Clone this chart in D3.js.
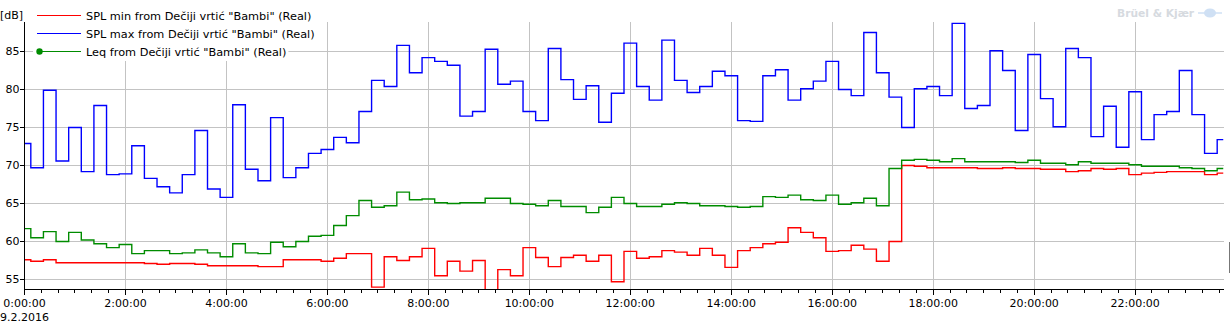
<!DOCTYPE html>
<html>
<head>
<meta charset="utf-8">
<script src="https://cdn.jsdelivr.net/npm/d3@7"></script>
<style>
  body { margin: 0; background: #fff; }
  svg { display: block; }
  text { font-family: "DejaVu Sans", sans-serif; fill: #000; }
</style>
</head>
<body>
<svg id="chart"></svg>
<script>
const width = 1230;
const height = 326;

// 15 minute values, 9.2.2016
const stepMinutes = 15;
const pointCount = 96;
const dayLabel = "9.2.2016";
const yTicks = [55, 60, 65, 70, 75, 80, 85];

const seriesNames = [
    'SPL min from Dečiji vrtić "Bambi" (Real)',
    'SPL max from Dečiji vrtić "Bambi" (Real)',
    'Leq from Dečiji vrtić "Bambi" (Real)'
];

const splMin = [
    57.6, 57.4, 57.6, 57.2, 57.2, 57.2, 57.2, 57.2, 57.2, 57.2, 57.1, 57.0,
    57.1, 57.1, 57.0, 56.8, 56.8, 56.8, 56.8, 56.7, 56.7, 57.6, 57.6, 57.6,
    57.4, 57.8, 58.4, 58.4, 54.0, 58.0, 57.5, 58.0, 59.1, 55.5, 57.4, 56.1,
    57.5, 52.5, 56.3, 55.5, 59.2, 57.9, 56.7, 57.9, 58.2, 57.4, 58.2, 54.7,
    58.7, 57.8, 58.0, 58.8, 58.6, 58.2, 59.1, 58.2, 56.6, 58.8, 59.2, 59.7,
    59.9, 61.8, 61.2, 60.5, 58.7, 58.8, 59.5, 59.0, 57.4, 60.0, 70.0, 69.9,
    69.7, 69.7, 69.7, 69.7, 69.6, 69.6, 69.7, 69.6, 69.6, 69.5, 69.5, 69.2,
    69.3, 69.6, 69.5, 69.6, 68.8, 69.0, 69.1, 69.2, 69.2, 69.2, 68.8, 69.0
];

const splMax = [
    72.9, 69.7, 79.9, 70.6, 75.0, 69.2, 77.9, 68.8, 68.9, 72.6, 68.3, 67.2,
    66.4, 68.8, 74.6, 66.9, 65.8, 78.0, 69.5, 68.0, 76.3, 68.4, 69.7, 71.6,
    72.1, 73.7, 73.0, 77.1, 81.2, 80.4, 85.8, 82.2, 84.2, 83.7, 83.2, 76.5,
    77.1, 85.3, 80.7, 81.1, 77.1, 75.9, 85.4, 81.3, 78.7, 80.5, 75.7, 79.5,
    86.1, 80.4, 78.6, 86.5, 81.2, 79.6, 80.4, 82.4, 81.8, 75.9, 75.8, 81.8,
    82.6, 78.6, 80.1, 81.1, 83.7, 80.0, 79.2, 87.5, 82.2, 79.0, 75.0, 80.1,
    80.4, 79.2, 88.7, 77.5, 77.9, 85.1, 82.5, 74.6, 84.6, 78.8, 75.1, 85.4,
    84.2, 73.8, 77.8, 72.4, 79.7, 73.4, 76.7, 77.1, 82.5, 76.7, 71.6, 73.4
];

const leq = [
    61.7, 60.5, 61.3, 60.0, 61.2, 60.2, 59.7, 59.2, 59.6, 58.4, 58.8, 58.8,
    58.4, 58.5, 58.9, 58.5, 58.0, 59.7, 58.5, 58.4, 59.9, 59.3, 60.0, 60.7,
    60.8, 62.1, 63.4, 65.4, 64.5, 64.7, 66.5, 65.5, 65.6, 65.1, 65.0, 65.1,
    65.1, 65.7, 65.7, 65.0, 64.9, 64.7, 65.4, 64.6, 64.6, 63.8, 64.5, 65.8,
    65.0, 64.6, 64.6, 64.9, 65.1, 65.0, 64.7, 64.7, 64.6, 64.5, 64.6, 65.9,
    65.8, 66.1, 65.5, 65.4, 66.1, 64.9, 65.1, 65.7, 64.7, 69.6, 70.7, 70.8,
    70.7, 70.5, 70.9, 70.5, 70.5, 70.5, 70.5, 70.4, 70.7, 70.3, 70.3, 70.1,
    70.5, 70.3, 70.3, 70.3, 70.1, 69.9, 69.9, 69.9, 69.7, 69.6, 69.3, 69.6
];

const seriesColors = ["#ff0000", "#0000ff", "#008c00"];
const seriesValues = [splMin, splMax, leq];

const start = new Date(2016, 1, 9, 0, 0, 0);
const times = d3.range(pointCount).map(i => d3.timeMinute.offset(start, i * stepMinutes));

const plotLeft = 24.5, plotRight = 1223.5, plotTop = 21.5, plotBottom = 289.5;

const x = d3.scaleTime()
    .domain([times[0], times[times.length - 1]])
    .range([plotLeft, plotRight]);

const y = d3.scaleLinear()
    .domain([55, 85])
    .range([279.5, 51.5]);

const svg = d3.select("#chart")
    .attr("width", width)
    .attr("height", height);

svg.append("defs").append("clipPath").attr("id", "plotClip")
    .append("rect")
    .attr("x", plotLeft).attr("y", plotTop)
    .attr("width", plotRight - plotLeft).attr("height", plotBottom - plotTop);

// grid
const majorTicks = x.ticks(d3.timeHour.every(2));
const minorTicks = x.ticks(d3.timeMinute.every(20));

svg.append("g")
    .selectAll("line")
    .data(yTicks)
    .join("line")
    .attr("x1", plotLeft).attr("x2", plotRight)
    .attr("y1", d => y(d)).attr("y2", d => y(d))
    .attr("stroke", "#c3c3c3")
    .attr("shape-rendering", "crispEdges");

svg.append("g")
    .selectAll("line")
    .data(majorTicks.slice(1))
    .join("line")
    .attr("x1", d => x(d)).attr("x2", d => x(d))
    .attr("y1", plotTop).attr("y2", plotBottom)
    .attr("stroke", "#c3c3c3")
    .attr("shape-rendering", "crispEdges");

// series
const line = d3.line()
    .x((d, i) => x(times[i]))
    .y(d => y(d))
    .curve(d3.curveStep);

const plot = svg.append("g").attr("clip-path", "url(#plotClip)");
seriesValues.forEach((vals, i) => {
    plot.append("path")
        .datum(vals)
        .attr("d", line)
        .attr("fill", "none")
        .attr("stroke", seriesColors[i])
        .attr("stroke-width", 1.4);
});

// axes
const axis = svg.append("g");
axis.append("line")
    .attr("x1", plotLeft).attr("x2", plotLeft)
    .attr("y1", plotTop).attr("y2", plotBottom)
    .attr("stroke", "#000").attr("shape-rendering", "crispEdges");
axis.append("line")
    .attr("x1", plotLeft).attr("x2", plotRight)
    .attr("y1", plotBottom).attr("y2", plotBottom)
    .attr("stroke", "#000").attr("shape-rendering", "crispEdges");

axis.selectAll(".ytick")
    .data(yTicks)
    .join("line")
    .attr("x1", plotLeft - 5).attr("x2", plotLeft)
    .attr("y1", d => y(d)).attr("y2", d => y(d))
    .attr("stroke", "#000").attr("shape-rendering", "crispEdges");

axis.selectAll(".ylab")
    .data(yTicks)
    .join("text")
    .attr("x", 19.5)
    .attr("y", d => y(d))
    .attr("dy", "0.36em")
    .attr("text-anchor", "end")
    .style("font-size", "11px")
    .text(d => d);

axis.selectAll(".minor")
    .data(minorTicks)
    .join("line")
    .attr("x1", d => x(d)).attr("x2", d => x(d))
    .attr("y1", plotBottom).attr("y2", plotBottom + 3)
    .attr("stroke", "#000").attr("shape-rendering", "crispEdges");

axis.selectAll(".major")
    .data(majorTicks)
    .join("line")
    .attr("x1", d => x(d)).attr("x2", d => x(d))
    .attr("y1", plotBottom).attr("y2", plotBottom + 5)
    .attr("stroke", "#000").attr("shape-rendering", "crispEdges");

const fmt = d3.timeFormat("%-H:%M:%S");
axis.selectAll(".xlab")
    .data(majorTicks)
    .join("text")
    .attr("x", d => x(d))
    .attr("y", 306.5)
    .attr("text-anchor", "middle")
    .style("font-size", "11px")
    .text(d => fmt(d));

svg.append("text")
    .attr("x", 0).attr("y", 321)
    .style("font-size", "11px")
    .text(dayLabel);

svg.append("text")
    .attr("x", 0).attr("y", 19)
    .style("font-size", "11px")
    .text("[dB]");

// legend
const legend = svg.append("g");
seriesNames.forEach((name, i) => {
    const ry = 15 + i * 18;
    const g = legend.append("g");
    const bg = g.append("rect").attr("fill", "#fff");
    g.append("line")
        .attr("x1", 37).attr("x2", 81)
        .attr("y1", ry + 0.5).attr("y2", ry + 0.5)
        .attr("stroke", seriesColors[i]).attr("stroke-width", 1.2);
    if (i === 2) {
        g.append("circle").attr("cx", 39.5).attr("cy", ry + 0.5).attr("r", 3.2)
            .attr("fill", seriesColors[i]);
    }
    const t = g.append("text")
        .attr("x", 86).attr("y", ry + 4.5)
        .style("font-size", "11.3px")
        .text(name);
    const w = t.node().getComputedTextLength();
    bg.attr("x", 33).attr("y", ry - 8).attr("width", 86 + w + 2 - 33).attr("height", 18);
});

// watermark
const logo = svg.append("g");
logo.append("text")
    .attr("x", 1117).attr("y", 17)
    .style("font-size", "10.7px")
    .style("font-weight", "bold")
    .style("fill", "#d6dadf")
    .text("Brüel & Kjær");
logo.append("ellipse")
    .attr("cx", 1210).attr("cy", 13).attr("rx", 6).attr("ry", 4.5)
    .attr("fill", "#cfe0f4");
logo.append("line")
    .attr("x1", 1198).attr("x2", 1222).attr("y1", 13).attr("y2", 13)
    .attr("stroke", "#cfe0f4").attr("stroke-width", 1.5);

// scrollbar remnant at the right edge
svg.append("line")
    .attr("x1", 1229.5).attr("x2", 1229.5)
    .attr("y1", 242).attr("y2", 273)
    .attr("stroke", "#777");
</script>
</body>
</html>
